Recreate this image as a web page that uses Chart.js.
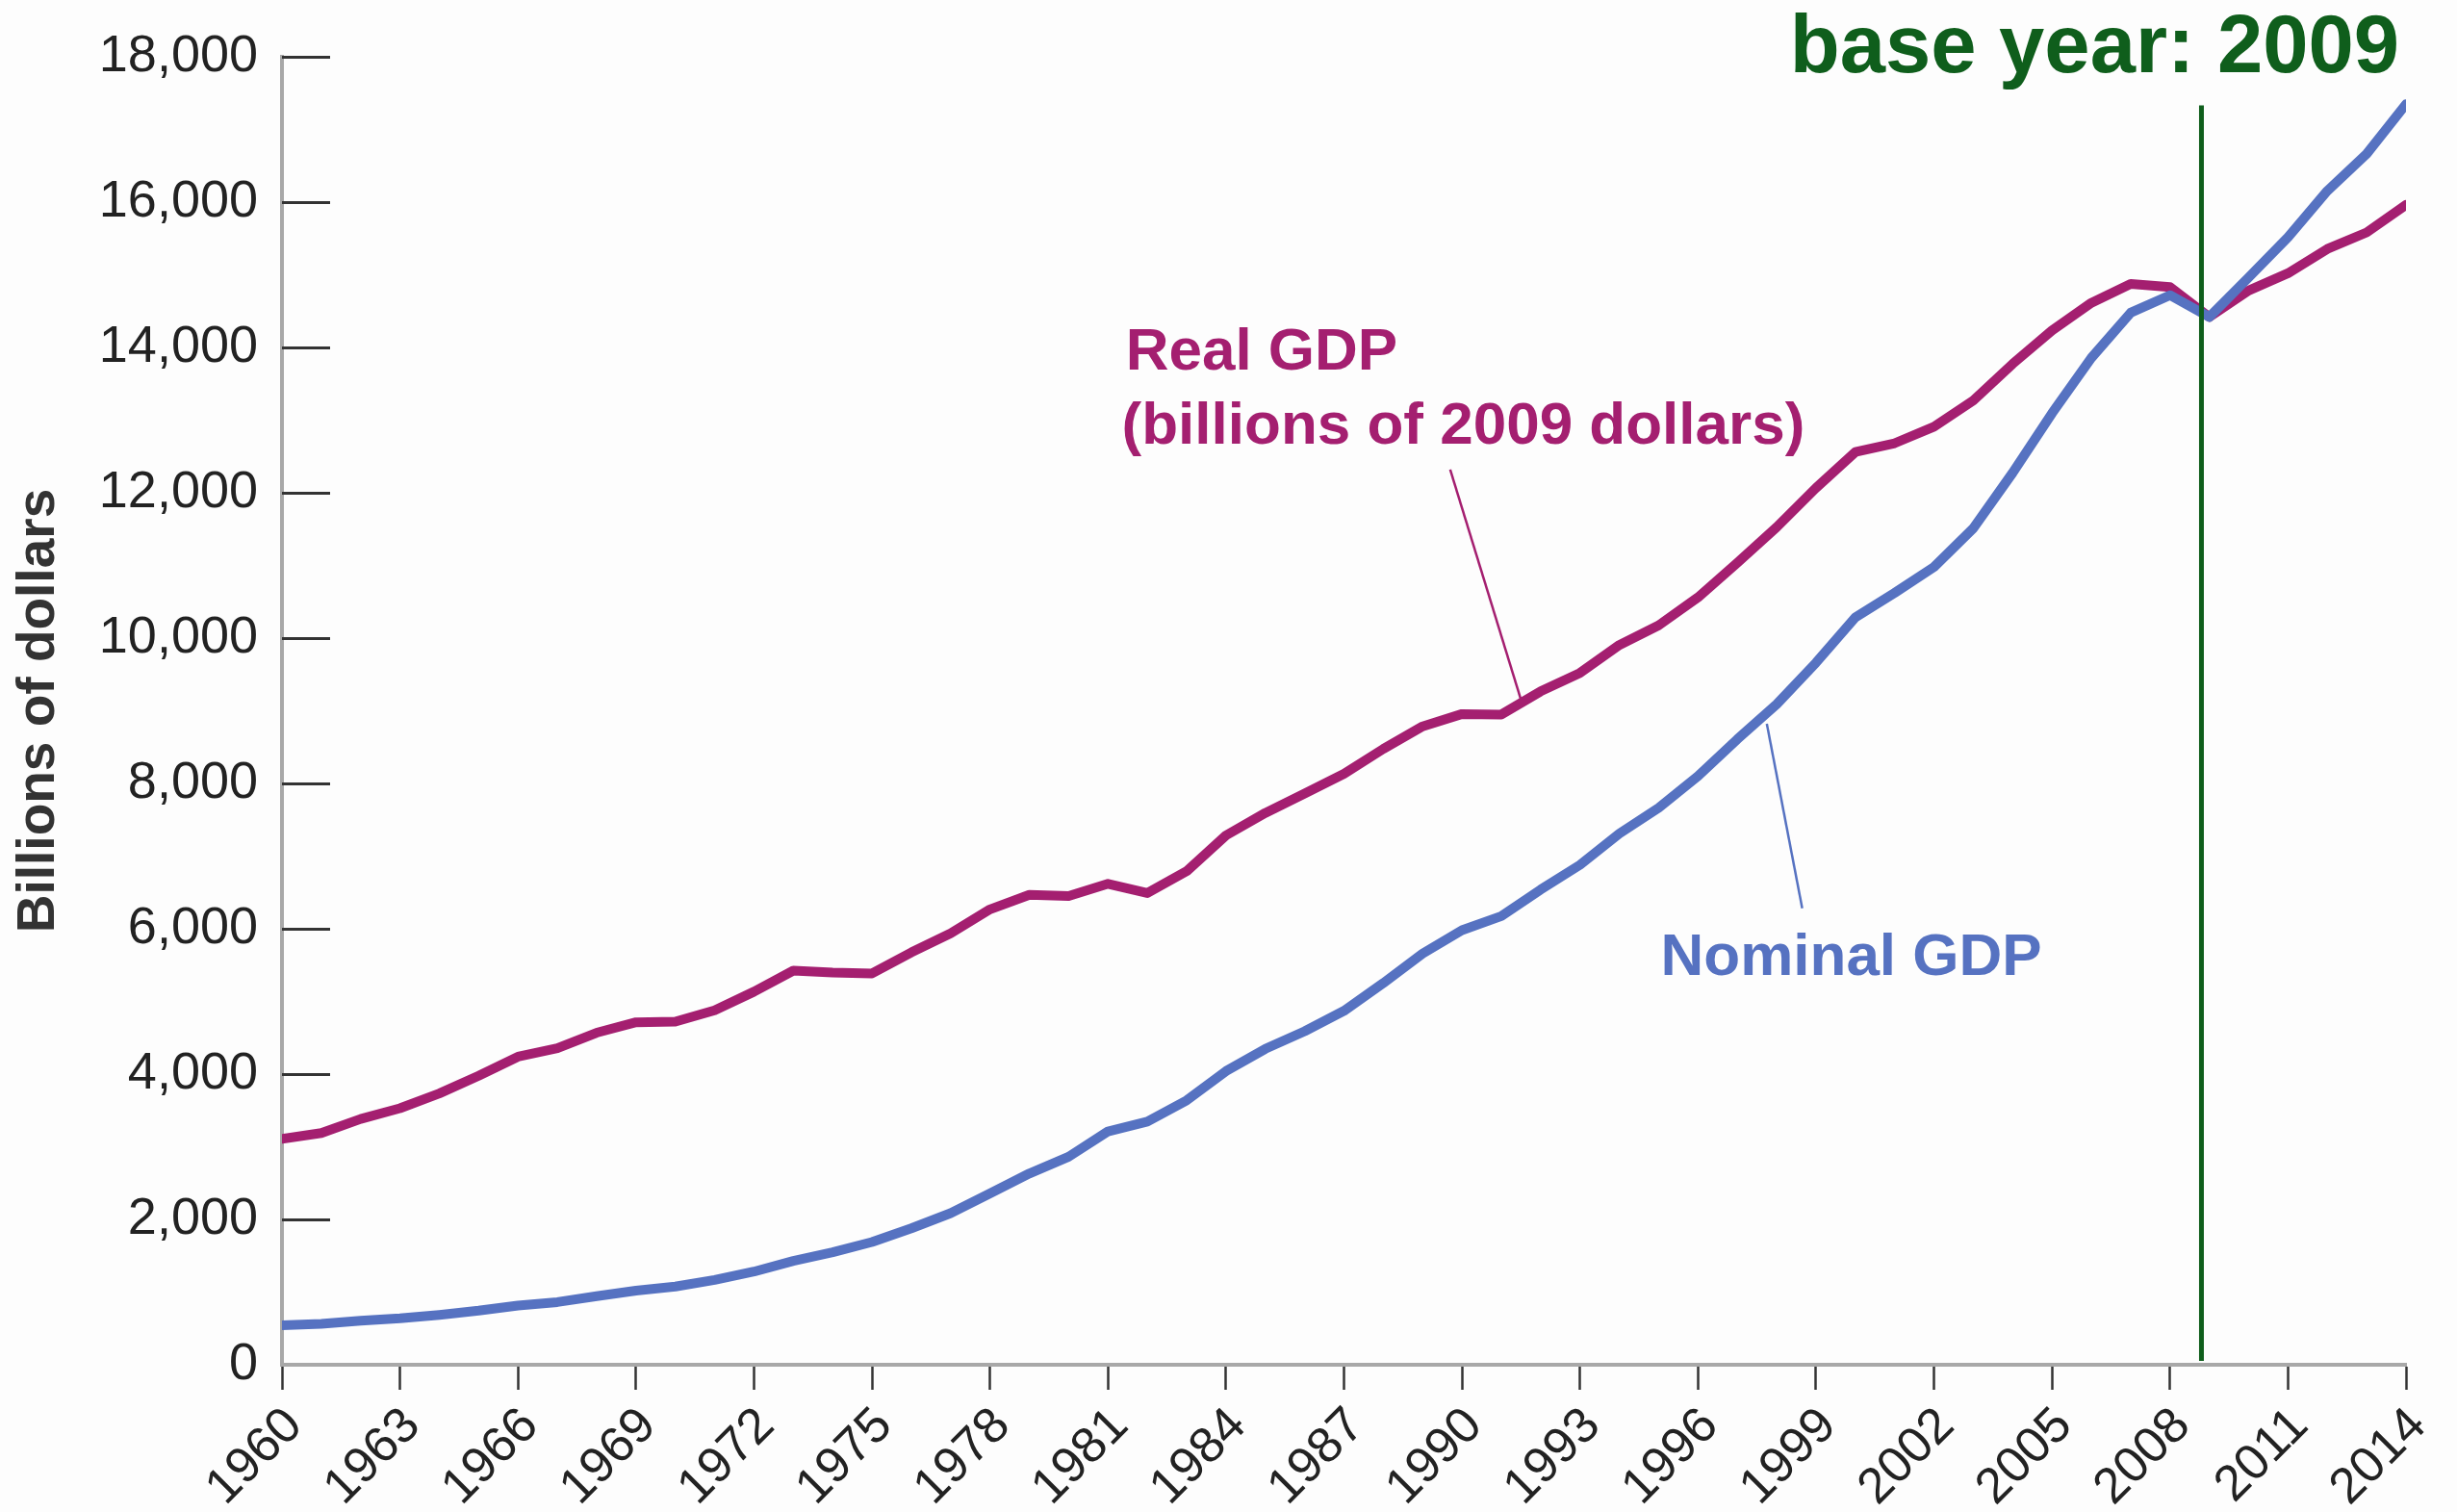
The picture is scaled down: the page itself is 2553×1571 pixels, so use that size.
<!DOCTYPE html>
<html>
<head>
<meta charset="utf-8">
<title>Real and Nominal GDP</title>
<script src="https://cdn.jsdelivr.net/npm/chart.js@4.4.0/dist/chart.umd.min.js"></script>
<style>
    html, body { margin: 0; padding: 0; background: #fdfdfd; }
    #wrap { width: 2553px; height: 1571px; position: relative; }
</style>
</head>
<body>
<div id="wrap"><canvas id="gdpChart"></canvas></div>
<script>
const years = [1960, 1961, 1962, 1963, 1964, 1965, 1966, 1967, 1968, 1969,
    1970, 1971, 1972, 1973, 1974, 1975, 1976, 1977, 1978, 1979,
    1980, 1981, 1982, 1983, 1984, 1985, 1986, 1987, 1988, 1989,
    1990, 1991, 1992, 1993, 1994, 1995, 1996, 1997, 1998, 1999,
    2000, 2001, 2002, 2003, 2004, 2005, 2006, 2007, 2008, 2009,
    2010, 2011, 2012, 2013, 2014]

// billions of 2009 dollars
const realGdp = [3109, 3188, 3383, 3530, 3734, 3977, 4239, 4355, 4569, 4713,
    4722, 4878, 5134, 5424, 5396, 5385, 5675, 5937, 6267, 6466,
    6450, 6618, 6491, 6792, 7285, 7594, 7861, 8133, 8475, 8786,
    8955, 8948, 9267, 9521, 9905, 10175, 10561, 11035, 11526, 12066,
    12560, 12682, 12909, 13271, 13774, 14234, 14614, 14874, 14830, 14419,
    14784, 15021, 15355, 15583, 15962]

// billions of current dollars
const nominalGdp = [543, 563, 605, 639, 686, 744, 815, 862, 943, 1020,
    1076, 1168, 1282, 1429, 1549, 1689, 1878, 2086, 2357, 2632,
    2863, 3211, 3345, 3638, 4041, 4347, 4590, 4870, 5253, 5658,
    5980, 6174, 6539, 6879, 7309, 7664, 8100, 8609, 9089, 9661,
    10285, 10622, 10978, 11511, 12275, 13094, 13856, 14478, 14719, 14419,
    14964, 15518, 16155, 16663, 17348]

const yTicks = [0, 2000, 4000, 6000, 8000, 10000, 12000, 14000, 16000, 18000]
const xTickStep = 3
const baseYear = 2008.8

const FONT = '"Liberation Sans", Arial, Helvetica, sans-serif'
const MAGENTA = '#a41f70'
const BLUE = '#5672c1'
const GREEN = '#0f5e1c'

// y tick marks point into the plot in the original
const innerTicks = {
    id: 'innerTicks',
    afterDraw(chart) {
        const { ctx, chartArea, scales: { y } } = chart
        ctx.save()
        ctx.strokeStyle = '#333'
        ctx.lineWidth = 3
        yTicks.forEach(v => {
            if (v === 0) return
            const py = Math.round(y.getPixelForValue(v)) + 0.5
            ctx.beginPath()
            ctx.moveTo(chartArea.left, py)
            ctx.lineTo(chartArea.left + 50, py)
            ctx.stroke()
        })
        ctx.restore()
    }
}

// labels, leader lines, base year marker
const notes = {
    id: 'notes',
    afterDatasetsDraw(chart) {
        const { ctx, chartArea, scales: { x, y } } = chart
        ctx.save()

        // base year line
        const bx = x.getPixelForValue(baseYear)
        ctx.strokeStyle = GREEN
        ctx.lineWidth = 5
        ctx.beginPath()
        ctx.moveTo(bx, y.getPixelForValue(17330))
        ctx.lineTo(bx, chartArea.bottom - 4)
        ctx.stroke()

        ctx.textBaseline = 'alphabetic'
        ctx.textAlign = 'right'
        ctx.fillStyle = GREEN
        ctx.font = 'bold 85px ' + FONT
        ctx.fillText('base year: 2009', chart.width - 60, 75)

        // real GDP label
        ctx.textAlign = 'left'
        ctx.fillStyle = MAGENTA
        ctx.font = 'bold 62px ' + FONT
        ctx.fillText('Real GDP', x.getPixelForValue(1981.45), y.getPixelForValue(13690))
        ctx.fillText('(billions of 2009 dollars)', x.getPixelForValue(1981.35), y.getPixelForValue(12670))
        ctx.strokeStyle = MAGENTA
        ctx.lineWidth = 2.5
        ctx.beginPath()
        ctx.moveTo(x.getPixelForValue(1989.7), y.getPixelForValue(12320))
        ctx.lineTo(x.getPixelForValue(1991.5), y.getPixelForValue(9150))
        ctx.stroke()

        // nominal GDP label
        ctx.fillStyle = BLUE
        ctx.fillText('Nominal GDP', x.getPixelForValue(1995.05), y.getPixelForValue(5360))
        ctx.strokeStyle = BLUE
        ctx.beginPath()
        ctx.moveTo(x.getPixelForValue(1997.75), y.getPixelForValue(8820))
        ctx.lineTo(x.getPixelForValue(1998.65), y.getPixelForValue(6280))
        ctx.stroke()

        ctx.restore()
    }
}

window.addEventListener('DOMContentLoaded', function () {

    const canvas = document.querySelector('#gdpChart')

    new Chart(canvas, {
        type: 'line',
        data: {
            datasets: [
                {
                    label: 'Nominal GDP',
                    data: years.map((yr, i) => ({ x: yr, y: nominalGdp[i] })),
                    borderColor: BLUE,
                    borderWidth: 10,
                    borderJoinStyle: 'round',
                    borderCapStyle: 'round',
                    pointRadius: 0,
                    tension: 0
                },
                {
                    label: 'Real GDP',
                    data: years.map((yr, i) => ({ x: yr, y: realGdp[i] })),
                    borderColor: MAGENTA,
                    borderWidth: 10,
                    borderJoinStyle: 'round',
                    borderCapStyle: 'round',
                    pointRadius: 0,
                    tension: 0
                }
            ]
        },
        options: {
            responsive: true,
            maintainAspectRatio: false,
            animation: false,
            events: [],
            layout: { padding: { top: 59, right: 53, bottom: 0, left: 0 } },
            plugins: {
                legend: { display: false },
                tooltip: { enabled: false }
            },
            scales: {
                x: {
                    type: 'linear',
                    min: years[0],
                    max: years[years.length - 1],
                    afterFit: scale => { scale.height = 153 },
                    border: { display: true, color: '#a8a8a8', width: 4 },
                    grid: {
                        drawOnChartArea: false,
                        drawTicks: true,
                        tickLength: 26,
                        tickColor: '#333',
                        tickWidth: 2.5
                    },
                    ticks: {
                        stepSize: xTickStep,
                        autoSkip: false,
                        minRotation: 45,
                        maxRotation: 45,
                        padding: 7,
                        labelOffset: 13,
                        color: '#222',
                        font: { family: FONT, size: 52 },
                        callback: v => String(v)
                    }
                },
                y: {
                    min: yTicks[0],
                    max: yTicks[yTicks.length - 1],
                    afterFit: scale => { scale.width = 293 },
                    afterBuildTicks: scale => { scale.ticks = yTicks.map(v => ({ value: v })) },
                    border: { display: true, color: '#a8a8a8', width: 4 },
                    grid: { drawOnChartArea: false, drawTicks: false },
                    ticks: {
                        padding: 25,
                        color: '#222',
                        font: { family: FONT, size: 54 },
                        callback: v => v.toLocaleString('en-US')
                    },
                    title: {
                        display: true,
                        text: 'Billions of dollars',
                        color: '#333',
                        font: { family: FONT, size: 55, weight: 'bold' },
                        padding: { top: 8, bottom: 0 }
                    }
                }
            }
        },
        plugins: [innerTicks, notes]
    })
})
</script>
</body>
</html>
